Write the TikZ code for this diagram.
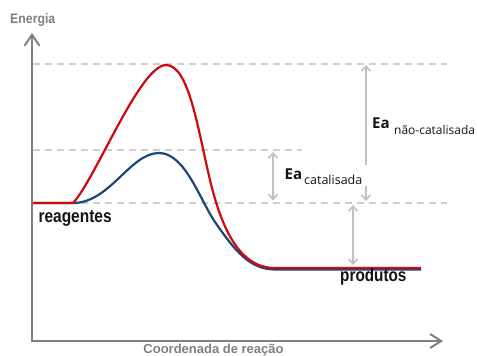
\documentclass[tikz,border=0pt]{standalone}
\usepackage{fontspec}
\setmainfont{Liberation Sans}
\newfontfamily\osans{Open Sans}
\usepackage{graphicx}
\usetikzlibrary{arrows.meta}
\definecolor{axisgray}{RGB}{128,128,128}
\definecolor{dashgray}{RGB}{206,206,206}
\definecolor{arrgray}{RGB}{192,192,192}
\definecolor{curvered}{RGB}{206,8,16}
\definecolor{curveblue}{RGB}{28,72,120}
\definecolor{txtblack}{RGB}{20,20,20}
\begin{document}
\begin{tikzpicture}[x=1pt,y=-1pt,
  axisline/.style={draw=axisgray,line width=2pt,line join=miter,
    {Straight Barb[length=11pt,width=15pt,line width=2pt]}-{Straight Barb[length=11pt,width=14pt,line width=2pt]}},
  dashline/.style={draw=dashgray,line width=1.4pt,dash pattern=on 7pt off 5pt},
  garrow/.style={draw=arrgray,line width=1.6pt},
  gtip/.tip={Straight Barb[length=5pt,width=9pt,line width=1.6pt]},
  redcurve/.style={draw=curvered,line width=2.2pt,line join=round},
  bluecurve/.style={draw=curveblue,line width=2.2pt,line join=round},
  txt/.style={inner sep=0pt,anchor=base west,text=txtblack},
  axlabel/.style={inner sep=0pt,text=axisgray,font=\bfseries}
]
\useasboundingbox (0,0) rectangle (477,356);
\fill[white] (0,0) rectangle (477,356);

% dashed reference levels
\coordinate (dTopL) at (33,64);  \coordinate (dTopR) at (447,64);
\coordinate (dMidL) at (33,150); \coordinate (dMidR) at (302,150);
\coordinate (dBotL) at (33,203); \coordinate (dBotR) at (447,203);
\draw[dashline] (dTopL) -- (dTopR);
\draw[dashline] (dMidL) -- (dMidR);
\draw[dashline] (dBotL) -- (dBotR);

% axes
\coordinate (ytip) at (32,33);
\coordinate (O) at (32,341);
\coordinate (xtip) at (443,341);
\draw[axisline] (ytip) -- (O) -- (xtip);

% curves
\draw[bluecurve] (33,203) -- (73,203)
  .. controls (110,203) and (130,153) .. (159,153)
  .. controls (185,153) and (200,200) .. (215,222)
  .. controls (235,251) and (250,269.5) .. (275,269.5) -- (421,269.5);
\draw[redcurve] (33,203) -- (73,203)
  .. controls (95,180) and (140,65) .. (166,65)
  .. controls (189,65) and (198,130) .. (210,180)
  .. controls (222,230) and (240,268) .. (275,268) -- (421,268);

% energy arrows
\coordinate (catTop) at (273,152); \coordinate (catBot) at (273,200.5);
\draw[garrow,gtip-gtip] (catTop) -- (catBot);
\coordinate (ncTop) at (366,65); \coordinate (ncMid) at (366,165);
\coordinate (ncLow) at (366,186); \coordinate (ncBot) at (366,201);
\draw[garrow,gtip-] (ncTop) -- (ncMid);
\draw[garrow,-gtip] (ncLow) -- (ncBot);
\coordinate (dhTop) at (353,205); \coordinate (dhBot) at (353,265);
\draw[garrow,gtip-gtip] (dhTop) -- (dhBot);

% labels
\node[txt] (eaN) at (372,128.5) {\osans\bfseries\fontsize{15}{15}\selectfont Ea};
\node[txt] (eaNsub) at (394,134) {\osans\fontsize{12}{12}\selectfont não-catalisada};
\node[txt] (eaC) at (284.5,179.5) {\osans\bfseries\fontsize{15}{15}\selectfont Ea};
\node[txt] (eaCsub) at (304,184.5) {\osans\fontsize{12.5}{12.5}\selectfont catalisada};

\node[txt] (reag) at (38.3,222.5) {\bfseries\fontsize{15.5}{16}\selectfont\scalebox{1}[1.18]{reagentes}};
\node[txt] (prod) at (340,281) {\bfseries\fontsize{15.3}{16}\selectfont\scalebox{1}[1.18]{produtos}};

\node[axlabel,anchor=base west] (energia) at (10,23.3) {\fontsize{12.3}{13}\selectfont\scalebox{1}[1.12]{Energia}};
\node[axlabel,anchor=base] (coord) at (213.5,353.2) {\fontsize{13}{14}\selectfont Coordenada de reação};
\end{tikzpicture}
\end{document}
